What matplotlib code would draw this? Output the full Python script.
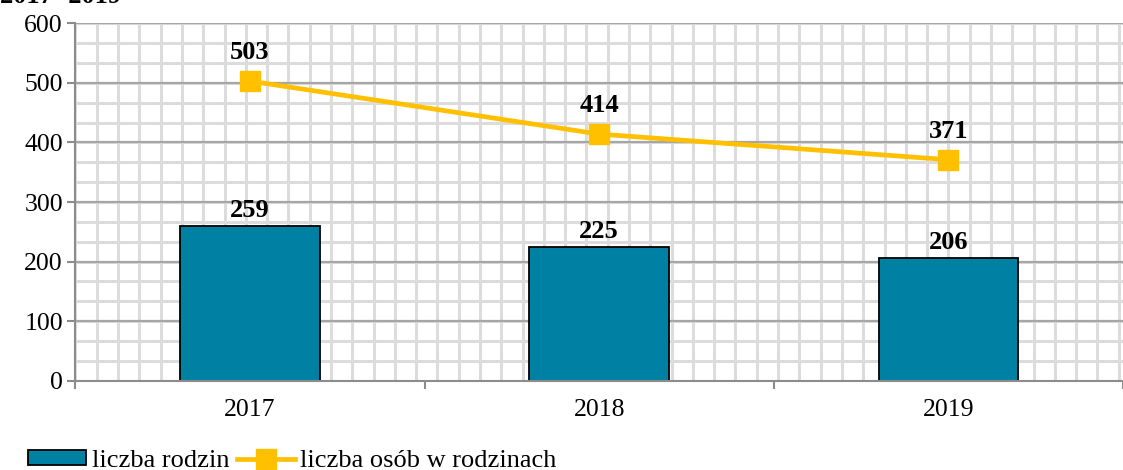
import numpy as np
from matplotlib import pyplot as plt

years = ["2017", "2018", "2019"]
families = [259, 225, 206]
persons = [503, 414, 371]
legend_labels = ["liczba rodzin", "liczba osób w rodzinach"]

plt.rcParams['font.family'] = ['Liberation Serif', 'DejaVu Serif']

fig = plt.figure(figsize=(11.23, 4.70), dpi=100)
ax = fig.add_axes([0.0672, 0.19, 0.9328, 0.7604])

x = np.arange(len(years))

# background pattern grid
for xv in np.arange(-0.5, 2.6, 21.5 / 352.6):
    ax.axvline(xv, color="#dcdcdc", linewidth=2.2, zorder=0)
for yv in np.arange(0, 601, 100 / 3):
    ax.axhline(yv, color="#dcdcdc", linewidth=2.2, zorder=0)
for yv in range(100, 601, 100):
    ax.axhline(yv, color="#a6a6a6", linewidth=1.6, zorder=0.5)

bars = ax.bar(x, families, width=0.40, color="#0081a3", edgecolor="black",
              linewidth=1.3, zorder=2, label=legend_labels[0])
line, = ax.plot(x, persons, color="#ffc000", linewidth=3.4, marker="s",
                markersize=14.5, zorder=3, label=legend_labels[1])

for xi, v in zip(x, families):
    ax.annotate(str(v), (xi, v), xytext=(0, 3), textcoords="offset points",
                ha="center", va="bottom", fontsize=19, fontweight="bold")
for xi, v in zip(x, persons):
    ax.annotate(str(v), (xi, v), xytext=(0, 12), textcoords="offset points",
                ha="center", va="bottom", fontsize=19, fontweight="bold")

ax.set_xlim(-0.5, 2.4707)
ax.set_ylim(0, 600)
ax.set_yticks(range(0, 601, 100))
ax.tick_params(axis="y", labelsize=18.5, length=6, width=1.5, color="#8c8c8c", pad=3)

ax.set_xticks([-0.5, 0.5, 1.5, 2.5])
ax.set_xticklabels([])
ax.tick_params(axis="x", which="major", length=6, width=1.5, color="#8c8c8c", direction="out")
ax.set_xticks(x, minor=True)
ax.set_xticklabels(years, minor=True)
ax.tick_params(axis="x", which="minor", length=0, labelsize=18.5, pad=13)

for side in ["top", "right"]:
    ax.spines[side].set_visible(False)
for side in ["left", "bottom"]:
    ax.spines[side].set_color("#8c8c8c")
    ax.spines[side].set_linewidth(1.5)
    ax.spines[side].set_zorder(4)

# cut-off title at the very top
fig.text(0.0, 1 - 3 / 470, "2017- 2019", fontsize=19, fontweight="bold",
         ha="left", va="baseline")

fig.legend(handles=[bars, line], labels=legend_labels, loc="lower left",
           bbox_to_anchor=(0.004, -0.055), ncol=2, frameon=False, fontsize=19,
           handlelength=2.2, handleheight=0.5, handletextpad=0.2,
           columnspacing=0.3)

fig.savefig("out.png", dpi=100)
